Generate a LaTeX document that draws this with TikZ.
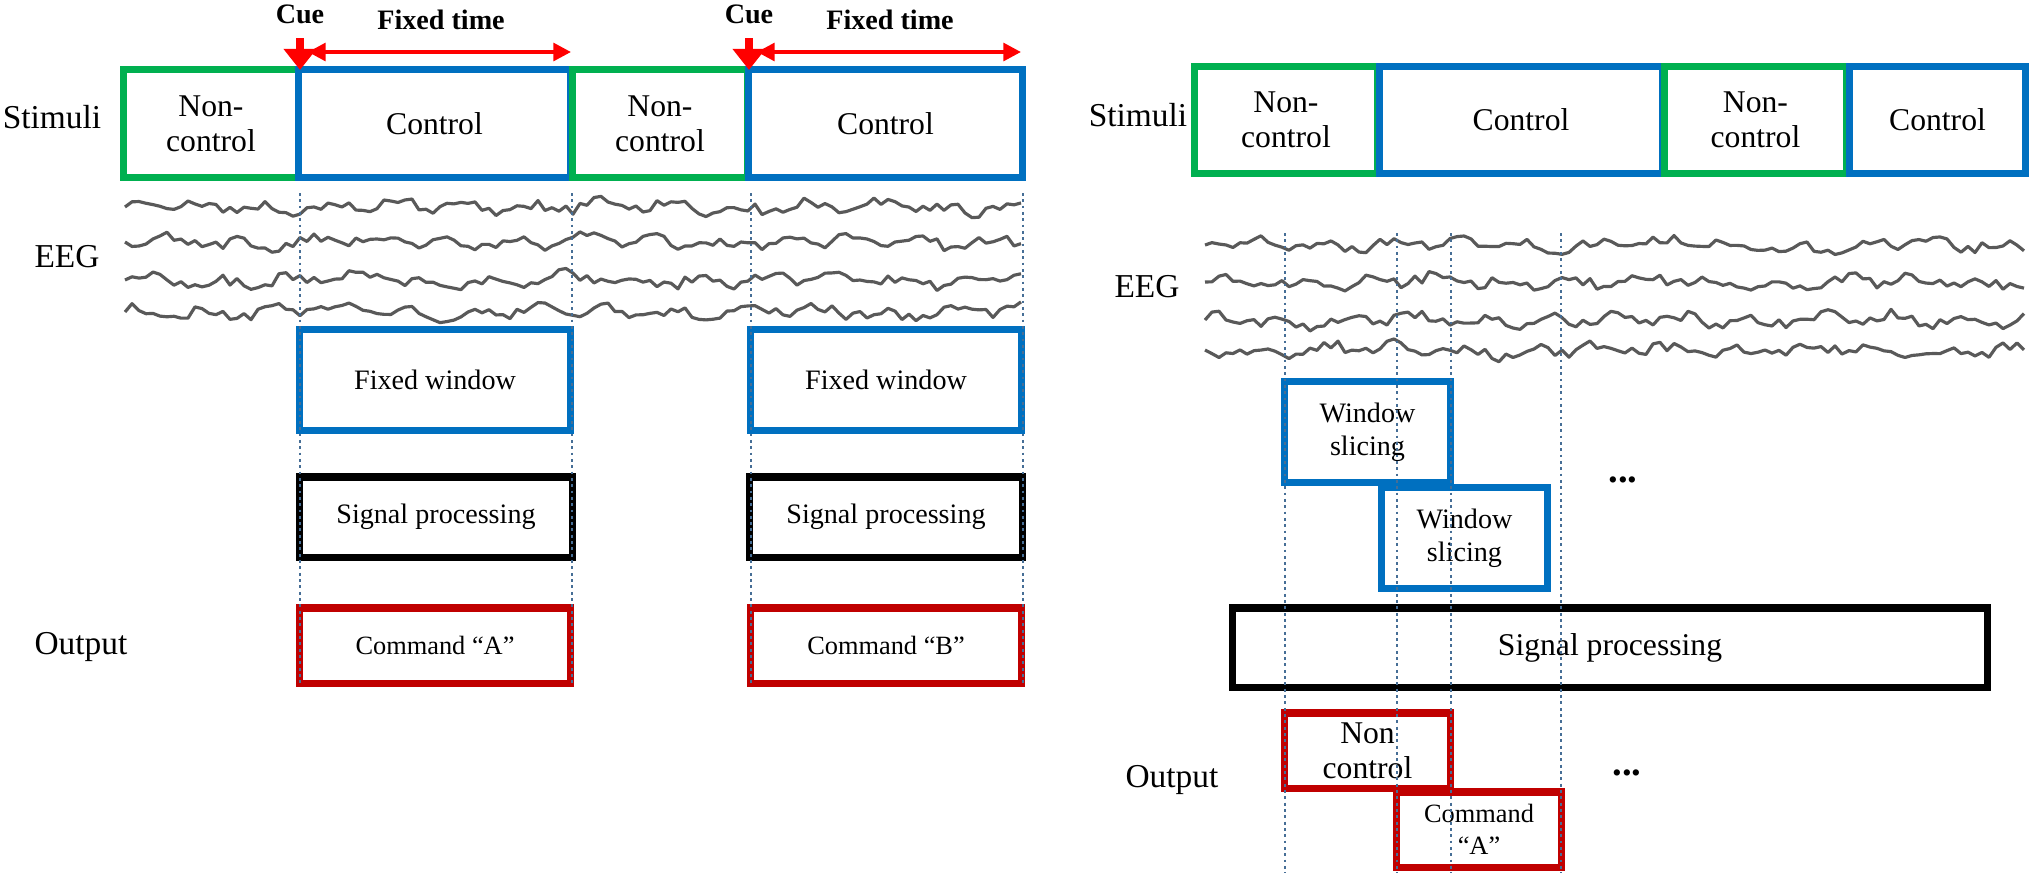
\documentclass[tikz,border=0pt]{standalone}
\usepackage{fontspec}
\setmainfont{Liberation Serif}
\usetikzlibrary{arrows.meta}
\definecolor{ncgreen}{RGB}{0,176,80}
\definecolor{ctblue}{RGB}{0,112,192}
\definecolor{cmdred}{RGB}{192,0,0}
\definecolor{guide}{RGB}{70,110,150}
\tikzset{
    box/.style = {rectangle, draw, line width=2pt, align=center, inner sep=1pt},
    noncontrol/.style = {box, draw=ncgreen, font=\fontsize{9}{10}\selectfont},
    control/.style = {box, draw=ctblue, font=\fontsize{9}{10}\selectfont},
    window/.style = {box, draw=ctblue, font=\fontsize{8}{9.5}\selectfont},
    process/.style = {box, draw=black, font=\fontsize{8}{9.5}\selectfont},
    command/.style = {box, draw=cmdred, font=\fontsize{7.5}{9}\selectfont},
    rowlabel/.style = {font=\fontsize{9.5}{12}\selectfont},
    toplabel/.style = {font=\bfseries\fontsize{8}{9}\selectfont},
    cue/.style = {draw=red, line width=2.2pt, -{Triangle[width=9pt,length=6pt]}},
    span/.style = {draw=red, line width=1.1pt, {Triangle[width=5pt,length=5pt]}-{Triangle[width=5pt,length=5pt]}},
    eeg/.style = {draw=black!65, line width=0.9pt, line join=round},
    guideline/.style = {draw=guide, densely dotted, line width=0.8pt}
}
\begin{document}
\begin{tikzpicture}[x=0.01cm, y=-0.01cm]
\useasboundingbox (0,0) rectangle (2029,878);

% left: fixed time
\node (stimL) [rowlabel] at (52,117) {Stimuli};
\node (eegL) [rowlabel] at (67,257) {EEG};
\node (outL) [rowlabel] at (81,647) {Output};
\node (nc1) [noncontrol, minimum width=1.74cm, minimum height=1.07cm] at (211,123.5) {Non-\\control};
\node (c1) [control, minimum width=2.71cm, minimum height=1.07cm] at (434.5,123.5) {Control};
\node (nc2) [noncontrol, minimum width=1.74cm, minimum height=1.07cm] at (660,123.5) {Non-\\control};
\node (c2) [control, minimum width=2.73cm, minimum height=1.07cm] at (885.5,123.5) {Control};
\node (fw1) [window, minimum width=2.70cm, minimum height=1.0cm] at (435,380) {Fixed window};
\node (fw2) [window, minimum width=2.70cm, minimum height=1.0cm] at (886,380) {Fixed window};
\node (sp1) [process, minimum width=2.72cm, minimum height=0.8cm] at (436,517) {Signal processing};
\node (sp2) [process, minimum width=2.72cm, minimum height=0.8cm] at (886,517) {Signal processing};
\node (cmA) [command, minimum width=2.70cm, minimum height=0.75cm] at (435,645.5) {Command “A”};
\node (cmB) [command, minimum width=2.70cm, minimum height=0.75cm] at (886,645.5) {Command “B”};

\node (cue1) [toplabel] at (300,14) {Cue};
\node (cue2) [toplabel] at (749,14) {Cue};
\node (ft1) [toplabel] at (441,20) {Fixed time};
\node (ft2) [toplabel] at (890,20) {Fixed time};
\coordinate (cue1a) at (300,38);
\coordinate (cue1b) at (300,70);
\coordinate (cue2a) at (749,38);
\coordinate (cue2b) at (749,70);
\coordinate (ft1a) at (308,52);
\coordinate (ft1b) at (571,52);
\coordinate (ft2a) at (757,52);
\coordinate (ft2b) at (1021,52);
\draw [cue] (cue1a) -- (cue1b);
\draw [cue] (cue2a) -- (cue2b);
\draw [span] (ft1a) -- (ft1b);
\draw [span] (ft2a) -- (ft2b);

% eeg traces
\pgfmathsetseed{11}
\foreach \yy in {207,242,280,312}
  \draw [eeg] (125,\yy) \foreach \i in {1,...,128} { -- ({125+\i*7},{\yy+4*sin(\i*37+\yy*3)+3*sin(\i*11+\yy)+5*rand}) };
\pgfmathsetseed{23}
\foreach \yy in {245,282,320,350}
  \draw [eeg] (1205,\yy) \foreach \i in {1,...,117} { -- ({1205+\i*7},{\yy+4*sin(\i*37+\yy*3)+3*sin(\i*11+\yy)+5*rand}) };

% right: sliding window
\node (stimR) [rowlabel] at (1138,115) {Stimuli};
\node (eegR) [rowlabel] at (1147,287) {EEG};
\node (outR) [rowlabel] at (1172,780) {Output};
\node (rnc1) [noncontrol, minimum width=1.82cm, minimum height=1.06cm] at (1286,120) {Non-\\control};
\node (rc1) [control, minimum width=2.82cm, minimum height=1.06cm] at (1521,120) {Control};
\node (rnc2) [noncontrol, minimum width=1.81cm, minimum height=1.06cm] at (1755.5,120) {Non-\\control};
\node (rc2) [control, minimum width=1.75cm, minimum height=1.06cm] at (1937.5,120) {Control};
\node (ws1) [window, minimum width=1.65cm, minimum height=1.0cm] at (1367.5,432) {Window\\slicing};
\node (ws2) [window, minimum width=1.65cm, minimum height=1.0cm] at (1464.5,538) {Window\\slicing};
\node (rsp) [process, font=\fontsize{9}{10}\selectfont, minimum width=7.54cm, minimum height=0.79cm] at (1610,647.5) {Signal processing};
\node (rnc) [command, font=\fontsize{9}{10}\selectfont, minimum width=1.65cm, minimum height=0.75cm] at (1367.5,750.5) {Non\\control};
\node (rcmA) [command, minimum width=1.64cm, minimum height=0.75cm] at (1479,829.5) {Command\\“A”};
\node (dots1) [font=\bfseries\fontsize{11}{12}\selectfont] at (1623,480) {...};
\node (dots2) [font=\bfseries\fontsize{11}{12}\selectfont] at (1627,773) {...};

% guide lines
\foreach \xx in {300,572,751,1023}
  \draw [guideline] (\xx,193) -- (\xx,683);
\foreach \xx in {1285,1397,1451,1561}
  \draw [guideline] (\xx,233) -- (\xx,873);
\end{tikzpicture}
\end{document}
